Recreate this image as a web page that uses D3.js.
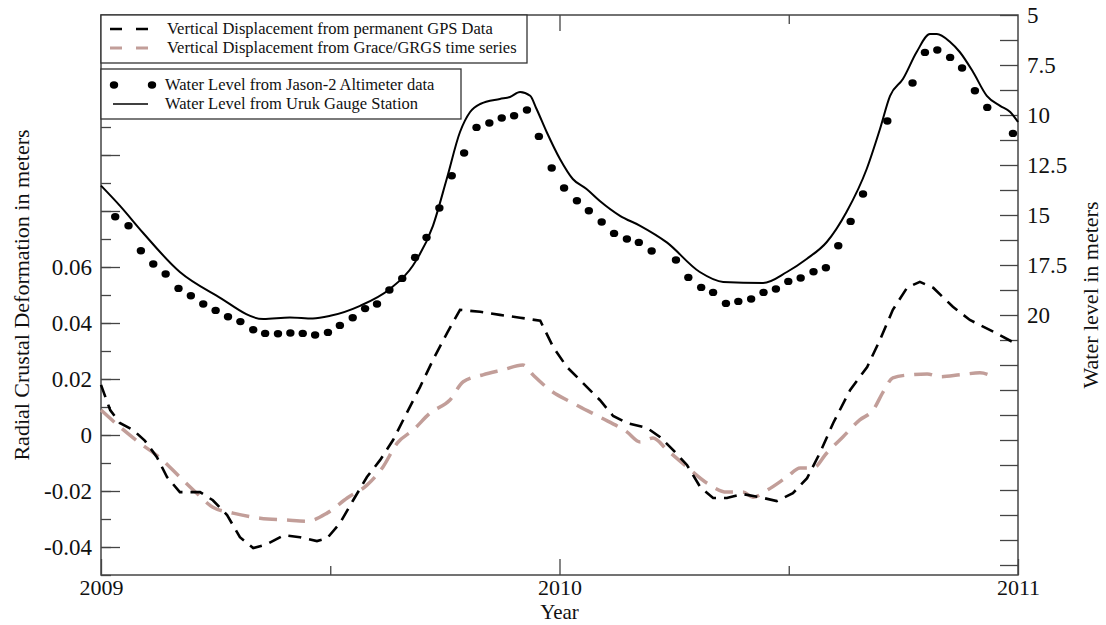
<!DOCTYPE html>
<html>
<head>
<meta charset="utf-8">
<script src="https://cdn.jsdelivr.net/npm/d3@7"></script>
<style>
  body { margin: 0; background: #fff; }
  text { font-family: "Liberation Serif", "Times New Roman", serif; fill: #111; }
</style>
</head>
<body>
<div id="chart"></div>
<script>
// GPS vertical displacement (m), left axis
const gpsYears = [2009.000, 2009.020, 2009.041, 2009.070, 2009.096, 2009.122, 2009.144, 2009.172, 2009.216, 2009.244, 2009.275, 2009.303, 2009.332, 2009.362, 2009.399, 2009.434, 2009.471, 2009.493, 2009.521, 2009.550, 2009.580, 2009.609, 2009.637, 2009.667, 2009.696, 2009.724, 2009.755, 2009.783, 2009.827, 2009.870, 2009.914, 2009.958, 2009.986, 2010.016, 2010.051, 2010.088, 2010.117, 2010.147, 2010.191, 2010.219, 2010.248, 2010.278, 2010.307, 2010.335, 2010.365, 2010.400, 2010.437, 2010.474, 2010.509, 2010.540, 2010.568, 2010.597, 2010.634, 2010.671, 2010.699, 2010.727, 2010.758, 2010.786, 2010.815, 2010.858, 2010.895, 2010.946, 2011.000];
const gpsValues = [0.0179, 0.0089, 0.0043, 0.0018, -0.0021, -0.0079, -0.0150, -0.0204, -0.0204, -0.0233, -0.0286, -0.0365, -0.0404, -0.0390, -0.0358, -0.0365, -0.0379, -0.0369, -0.0315, -0.0233, -0.0150, -0.0089, -0.0018, 0.0079, 0.0172, 0.0268, 0.0365, 0.0447, 0.0440, 0.0429, 0.0419, 0.0408, 0.0315, 0.0243, 0.0186, 0.0125, 0.0068, 0.0043, 0.0025, -0.0007, -0.0054, -0.0107, -0.0186, -0.0225, -0.0225, -0.0211, -0.0222, -0.0236, -0.0208, -0.0154, -0.0064, 0.0043, 0.0161, 0.0243, 0.0340, 0.0447, 0.0526, 0.0547, 0.0526, 0.0458, 0.0411, 0.0369, 0.0322];

// Grace/GRGS vertical displacement (m), left axis
const graceYears = [2009.000, 2009.041, 2009.085, 2009.129, 2009.172, 2009.209, 2009.244, 2009.288, 2009.347, 2009.406, 2009.449, 2009.493, 2009.537, 2009.580, 2009.615, 2009.646, 2009.681, 2009.718, 2009.761, 2009.790, 2009.833, 2009.877, 2009.920, 2009.942, 2009.979, 2010.029, 2010.088, 2010.147, 2010.176, 2010.204, 2010.235, 2010.278, 2010.322, 2010.365, 2010.400, 2010.422, 2010.453, 2010.496, 2010.525, 2010.553, 2010.583, 2010.618, 2010.655, 2010.684, 2010.706, 2010.727, 2010.764, 2010.802, 2010.830, 2010.874, 2010.917, 2010.946];
const graceValues = [0.0089, 0.0029, -0.0029, -0.0082, -0.0150, -0.0208, -0.0258, -0.0279, -0.0297, -0.0304, -0.0308, -0.0279, -0.0225, -0.0179, -0.0114, -0.0029, 0.0018, 0.0079, 0.0125, 0.0190, 0.0215, 0.0233, 0.0250, 0.0215, 0.0161, 0.0114, 0.0064, 0.0011, -0.0025, -0.0011, -0.0054, -0.0114, -0.0172, -0.0204, -0.0204, -0.0222, -0.0197, -0.0150, -0.0118, -0.0118, -0.0064, -0.0007, 0.0054, 0.0089, 0.0154, 0.0204, 0.0215, 0.0218, 0.0208, 0.0215, 0.0222, 0.0208];

// Jason-2 altimeter water level (m), right axis
const jasonYears = [2009.031, 2009.060, 2009.087, 2009.114, 2009.141, 2009.169, 2009.196, 2009.223, 2009.250, 2009.277, 2009.304, 2009.332, 2009.358, 2009.386, 2009.413, 2009.440, 2009.467, 2009.495, 2009.521, 2009.549, 2009.576, 2009.602, 2009.629, 2009.657, 2009.685, 2009.710, 2009.738, 2009.765, 2009.792, 2009.819, 2009.847, 2009.874, 2009.901, 2009.929, 2009.955, 2009.983, 2010.010, 2010.038, 2010.064, 2010.092, 2010.119, 2010.147, 2010.173, 2010.201, 2010.254, 2010.281, 2010.309, 2010.335, 2010.363, 2010.390, 2010.418, 2010.445, 2010.472, 2010.499, 2010.526, 2010.554, 2010.581, 2010.608, 2010.635, 2010.662, 2010.715, 2010.770, 2010.797, 2010.824, 2010.852, 2010.878, 2010.906, 2010.933, 2010.989];
const jasonLevels = [15.09, 15.54, 16.79, 17.45, 17.95, 18.67, 19.04, 19.45, 19.77, 20.09, 20.33, 20.74, 20.92, 20.94, 20.9, 20.92, 21.0, 20.87, 20.52, 20.14, 19.68, 19.45, 18.75, 18.17, 17.12, 16.12, 14.65, 13.04, 11.9, 10.62, 10.4, 10.15, 10.04, 9.75, 11.07, 12.65, 13.65, 14.29, 14.79, 15.35, 15.92, 16.2, 16.37, 16.8, 17.25, 18.12, 18.62, 18.87, 19.42, 19.32, 19.2, 18.87, 18.7, 18.32, 18.15, 17.84, 17.64, 16.54, 15.32, 13.95, 10.3, 8.4, 6.87, 6.75, 7.12, 7.65, 8.79, 9.62, 10.92];

// Uruk gauge station water level (m), right axis
const gaugeYears = [2009.000, 2009.041, 2009.092, 2009.172, 2009.252, 2009.354, 2009.412, 2009.462, 2009.500, 2009.565, 2009.630, 2009.680, 2009.724, 2009.754, 2009.783, 2009.805, 2009.827, 2009.870, 2009.892, 2009.914, 2009.936, 2009.950, 2009.972, 2010.001, 2010.029, 2010.059, 2010.088, 2010.132, 2010.176, 2010.234, 2010.306, 2010.357, 2010.444, 2010.496, 2010.539, 2010.583, 2010.626, 2010.670, 2010.699, 2010.721, 2010.749, 2010.779, 2010.808, 2010.823, 2010.852, 2010.873, 2010.902, 2010.932, 2010.961, 2010.983, 2011.000];
const gaugeLevels = [13.53, 14.53, 15.9, 17.85, 19.03, 20.2, 20.12, 20.17, 20.04, 19.54, 18.7, 17.54, 15.54, 13.2, 10.85, 9.85, 9.45, 9.2, 9.1, 8.85, 9.04, 9.7, 10.85, 12.2, 13.2, 13.7, 14.3, 15.04, 15.54, 16.37, 17.85, 18.35, 18.4, 17.85, 17.2, 16.35, 14.85, 12.7, 10.7, 9.04, 8.2, 6.85, 5.95, 5.95, 6.35, 6.85, 7.85, 9.04, 9.54, 9.85, 10.35];

// Tick labels
const leftLabels = [-0.04, -0.02, 0, 0.02, 0.04, 0.06];
const rightLabels = [5, 7.5, 10, 12.5, 15, 17.5, 20];
const yearLabels = [2009, 2010, 2011];

const legendTop = ["Vertical Displacement from permanent GPS Data", "Vertical Displacement from Grace/GRGS time series"];
const legendBottom = ["Water Level from Jason-2 Altimeter data", "Water Level from Uruk Gauge Station"];

const margin = { top: 15, right: 88, bottom: 50, left: 101 };
const width = 1106 - margin.left - margin.right;
const height = 625 - margin.top - margin.bottom;

const frameColor = "#444";
const graceColor = "#c29e99";

const svg = d3.select("#chart")
    .append("svg")
    .attr("width", 1106)
    .attr("height", 625)
    .append("g")
    .attr("transform", `translate(${margin.left},${margin.top})`);

// Scales
const x = d3.scaleLinear().domain([2009, 2011]).range([0, width]);
const yLeft = d3.scaleLinear().domain([-0.05, 0.15]).range([height, 0]);
const yRight = d3.scaleLinear().domain([5, 33]).range([0, height]);

const fmt = d => (d === 0 ? "0" : String(+d.toFixed(2)));

function styleAxis(g, fontSize) {
    g.attr("font-family", null);
    g.select(".domain").remove();
    g.selectAll(".tick line").attr("stroke", frameColor).attr("stroke-width", 1.3);
    g.selectAll("text").style("font-size", fontSize + "px").style("font-family", "Liberation Serif");
}

// Left axis: minor every 0.01, major every 0.02
svg.append("g")
    .call(d3.axisLeft(yLeft).tickValues(d3.range(-5, 16).map(d => d / 100)).tickSize(-10).tickFormat(""))
    .call(g => styleAxis(g, 23));
svg.append("g")
    .call(d3.axisLeft(yLeft).tickValues(d3.range(-4, 16, 2).map(d => d / 100)).tickSize(-19).tickPadding(9)
        .tickFormat(d => leftLabels.some(v => Math.abs(v - d) < 1e-9) ? fmt(d) : ""))
    .call(g => styleAxis(g, 23));

// Right axis: ticks every 1.25 m
svg.append("g")
    .attr("transform", `translate(${width},0)`)
    .call(d3.axisRight(yRight).tickValues(d3.range(0, 23).map(i => 5 + i * 1.25)).tickSize(-18).tickPadding(9)
        .tickFormat(d => rightLabels.includes(d) ? String(d) : ""))
    .call(g => styleAxis(g, 23));

// Bottom axis
svg.append("g")
    .attr("transform", `translate(0,${height})`)
    .call(d3.axisBottom(x).tickValues([2009.5, 2010.5]).tickSize(-9).tickFormat(""))
    .call(g => styleAxis(g, 23));
svg.append("g")
    .attr("transform", `translate(0,${height})`)
    .call(d3.axisBottom(x).tickValues(yearLabels).tickSize(-16).tickPadding(4).tickFormat(d3.format("d")))
    .call(g => styleAxis(g, 22));

// Top axis (mirrored ticks)
svg.append("g")
    .call(d3.axisTop(x).tickValues([2009.5, 2010.5]).tickSize(-9).tickFormat(""))
    .call(g => styleAxis(g, 23));
svg.append("g")
    .call(d3.axisTop(x).tickValues([2010]).tickSize(-16).tickFormat(""))
    .call(g => styleAxis(g, 23));

// Frame
svg.append("rect")
    .attr("width", width)
    .attr("height", height)
    .attr("fill", "none")
    .attr("stroke", frameColor)
    .attr("stroke-width", 1.5);

// Axis titles
svg.append("text")
    .attr("transform", `translate(${29 - margin.left},${295 - margin.top}) rotate(-90)`)
    .style("text-anchor", "middle")
    .style("font-size", "22px")
    .text("Radial Crustal Deformation in meters");

svg.append("text")
    .attr("transform", `translate(${1098 - margin.left},${295 - margin.top}) rotate(-90)`)
    .style("text-anchor", "middle")
    .style("font-size", "22px")
    .text("Water level in meters");

svg.append("text")
    .attr("x", width / 2)
    .attr("y", 619 - margin.top)
    .style("text-anchor", "middle")
    .style("font-size", "21px")
    .text("Year");

// Series
const zip = (xs, ys) => xs.map((d, i) => [d, ys[i]]);

const gaugeLine = d3.line().x(d => x(d[0])).y(d => yRight(d[1])).curve(d3.curveMonotoneX);
svg.append("path")
    .datum(zip(gaugeYears, gaugeLevels))
    .attr("fill", "none")
    .attr("stroke", "#000")
    .attr("stroke-width", 2)
    .attr("d", gaugeLine);

svg.selectAll(".jason")
    .data(zip(jasonYears, jasonLevels))
    .enter().append("ellipse")
    .attr("class", "jason")
    .attr("cx", d => x(d[0]))
    .attr("cy", d => yRight(d[1]))
    .attr("rx", 4.2)
    .attr("ry", 3.7)
    .attr("fill", "#000");

svg.append("path")
    .datum(zip(graceYears, graceValues))
    .attr("fill", "none")
    .attr("stroke", graceColor)
    .attr("stroke-width", 3.5)
    .attr("stroke-dasharray", "18,10")
    .attr("d", d3.line().x(d => x(d[0])).y(d => yLeft(d[1])).curve(d3.curveMonotoneX));

svg.append("path")
    .datum(zip(gpsYears, gpsValues))
    .attr("fill", "none")
    .attr("stroke", "#000")
    .attr("stroke-width", 2.6)
    .attr("stroke-dasharray", "13,8")
    .attr("d", d3.line().x(d => x(d[0])).y(d => yLeft(d[1])));

// Legends (boxes drawn over the top ticks)
const lg = svg.append("g");

lg.append("rect")
    .attr("x", 0).attr("y", 0).attr("width", 426).attr("height", 48)
    .attr("fill", "#fff").attr("stroke", "#333").attr("stroke-width", 1.3);
lg.append("rect")
    .attr("x", 0).attr("y", 54).attr("width", 360).attr("height", 50)
    .attr("fill", "#fff").attr("stroke", "#333").attr("stroke-width", 1.3);

const topRows = [
    { label: legendTop[0], color: "#000", width: 2.6, y: 14 },
    { label: legendTop[1], color: graceColor, width: 3.2, y: 33 }
];
topRows.forEach(r => {
    lg.append("line")
        .attr("x1", 9).attr("x2", 47).attr("y1", r.y).attr("y2", r.y)
        .attr("stroke", r.color).attr("stroke-width", r.width)
        .attr("stroke-dasharray", "12,14");
    lg.append("text")
        .attr("x", 66).attr("y", r.y + 5)
        .style("font-size", "16.5px")
        .text(r.label);
});

[13, 51].forEach(cx => {
    lg.append("ellipse")
        .attr("cx", cx).attr("cy", 70).attr("rx", 4.2).attr("ry", 3.7).attr("fill", "#000");
});
lg.append("text").attr("x", 64).attr("y", 75).style("font-size", "16.5px").text(legendBottom[0]);

lg.append("line")
    .attr("x1", 12).attr("x2", 47).attr("y1", 89).attr("y2", 89)
    .attr("stroke", "#000").attr("stroke-width", 1.6);
lg.append("text").attr("x", 64).attr("y", 94).style("font-size", "16.5px").text(legendBottom[1]);
</script>
</body>
</html>
